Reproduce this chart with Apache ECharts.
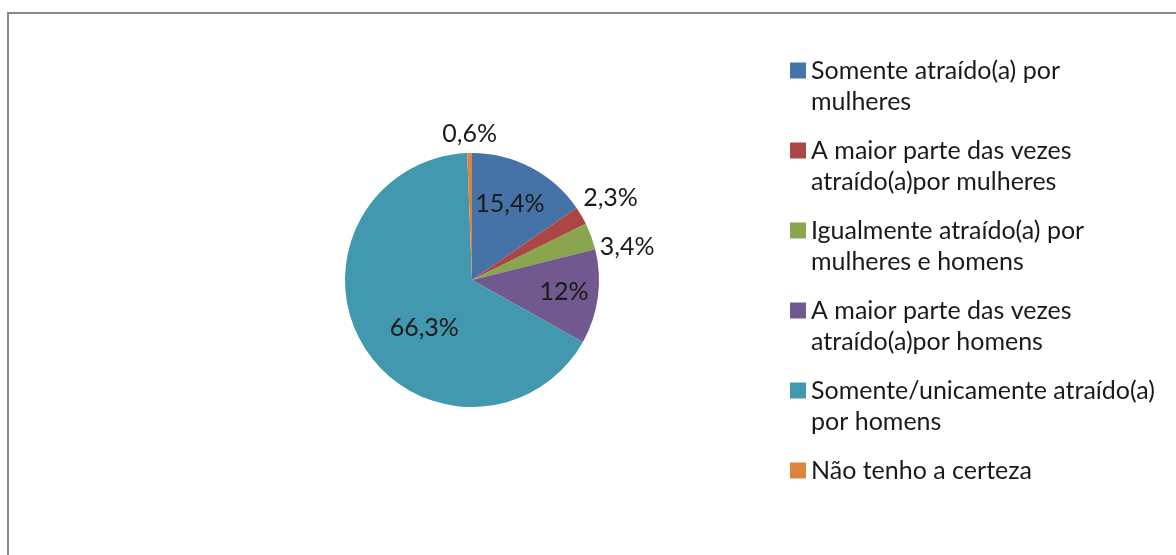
<!DOCTYPE html>
<html>
<head>
<meta charset="utf-8">
<script src="https://cdn.jsdelivr.net/npm/echarts@6/dist/echarts.min.js"></script>
<style>
  html, body { margin: 0; padding: 0; background: #fff; }
  #chart { width: 1176px; height: 555px; }
  .frame {
    position: absolute; left: 7px; top: 12px;
    width: 1300px; height: 700px;
    border: 2px solid #8a8a8a; pointer-events: none;
  }
</style>
</head>
<body>
<div id="chart"></div>
<div class="frame"></div>
<script>
    // categories as in the legend (line breaks like the original)
    var categories = [
        'Somente atraído(a) por\nmulheres',
        'A maior parte das vezes\natraído(a)por mulheres',
        'Igualmente atraído(a) por\nmulheres e homens',
        'A maior parte das vezes\natraído(a)por homens',
        'Somente/unicamente atraído(a)\npor homens',
        'Não tenho a certeza'
    ];
    var values = [15.4, 2.3, 3.4, 12, 66.3, 0.6];
    var valueLabels = ['15,4%', '2,3%', '3,4%', '12%', '66,3%', '0,6%'];

    var colors = ['#4572A7', '#AA4643', '#89A54E', '#71588F', '#4198AF', '#DB843D'];
    // which labels sit outside the pie (small slices)
    var outside = [false, true, true, false, false, true];
    // small nudges so label placement follows the original
    var labelNudge = [[7, -17], [29, -18], [36, 11], [26, 3], [9, 13], [0, -19]];

    var chart = echarts.init(document.getElementById('chart'));

    var pieData = values.map(function (v, i) {
        return {
            name: categories[i],
            value: v,
            itemStyle: { color: colors[i] },
            label: outside[i]
                ? { position: 'outside', distanceToLabelLine: 0 }
                : { position: 'inside' },
            labelLine: { show: false, length: 0, length2: 0 }
        };
    });

    var options = {
        animation: false,
        legend: {
            orient: 'vertical',
            left: 790,
            top: 55,
            padding: 0,
            itemGap: 18,
            itemWidth: 16,
            itemHeight: 47,
            selectedMode: false,
            icon: 'path://M0,0L16,0L16,16L0,16Z M0,47L0,47',
            formatter: function (name) {
                return name.indexOf('\n') < 0 ? name + '\n ' : name;
            },
            textStyle: {
                fontFamily: 'Lato',
                fontSize: 25,
                lineHeight: 31,
                color: '#1a1a1a'
            },
            data: categories
        },
        series: [
            {
                type: 'pie',
                center: [472, 280],
                radius: 127,
                startAngle: 90,
                clockwise: true,
                avoidLabelOverlap: false,
                label: {
                    show: true,
                    fontFamily: 'Lato',
                    fontSize: 25,
                    color: '#1a1a1a',
                    formatter: function (p) {
                        return valueLabels[p.dataIndex];
                    }
                },
                labelLine: { show: false },
                labelLayout: function (p) {
                    var n = labelNudge[p.dataIndex];
                    return {
                        dx: n[0],
                        dy: n[1],
                        align: 'center',
                        verticalAlign: 'middle'
                    };
                },
                itemStyle: { borderWidth: 0 },
                emphasis: { disabled: true },
                data: pieData
            }
        ]
    };

    chart.setOption(options);
</script>
</body>
</html>
